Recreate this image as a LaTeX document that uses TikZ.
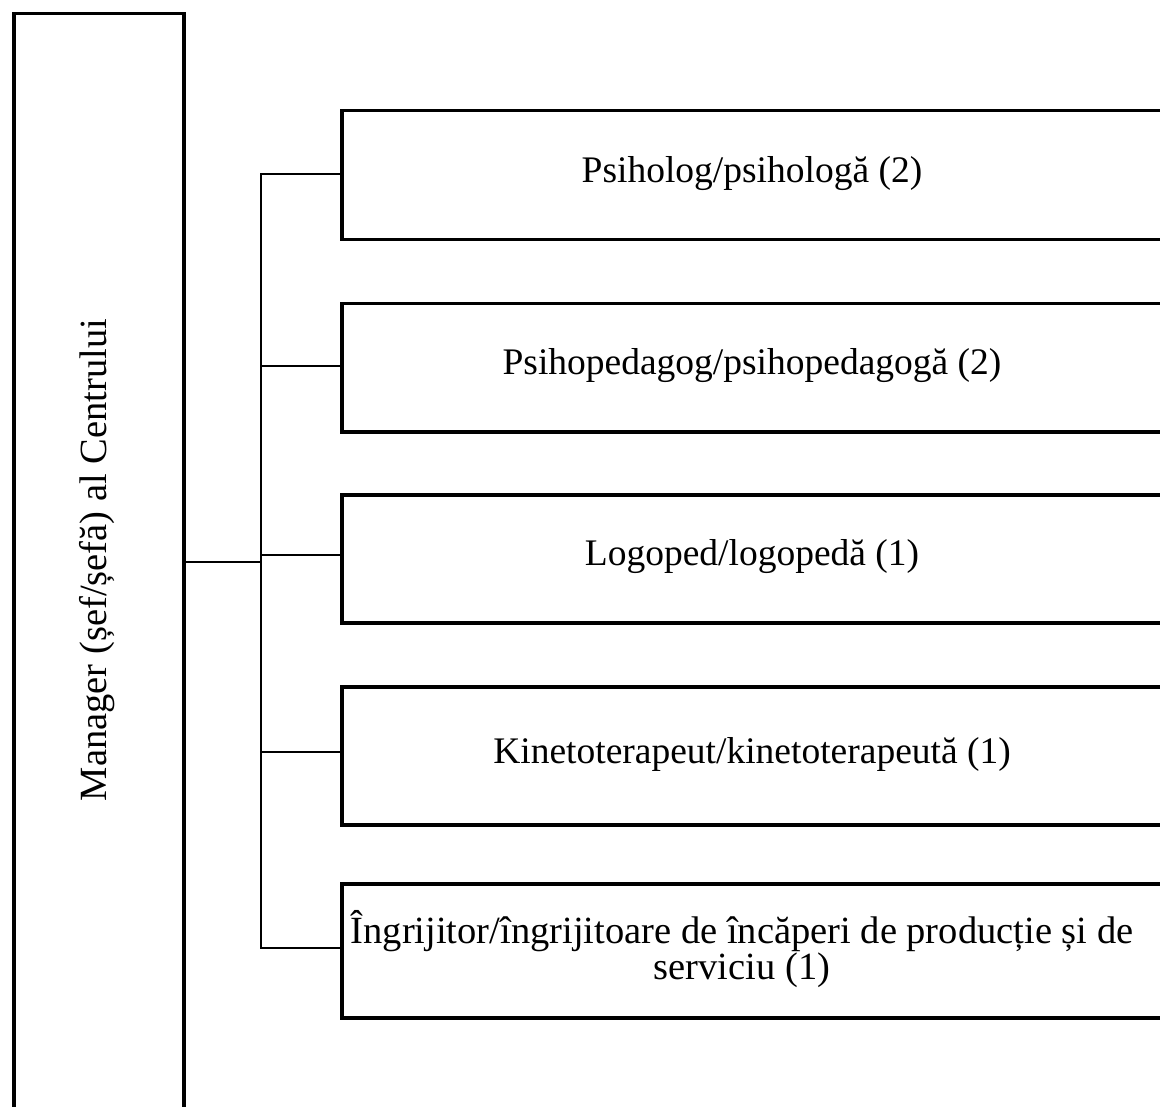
\documentclass[tikz,border=0pt]{standalone}
\usepackage{fontspec}
\setmainfont{Liberation Serif}
\begin{document}
\begin{tikzpicture}[x=1pt,y=-1pt,
  box/.style={draw, line width=3.5pt, rectangle, inner sep=0pt},
  role/.style={box, minimum width=824pt, minimum height=#1, anchor=north west},
  lbl/.style={font=\fontsize{37.5}{33}\selectfont, align=center},
  conn/.style={line width=2pt}]
\useasboundingbox (0,0) rectangle (1160,1107);
\node[box, minimum width=170pt, minimum height=1200pt, anchor=north west] (mgr) at (12,12) {};
\node[lbl, rotate=90, font=\fontsize{38.5}{33}\selectfont] (mgrt) at (97,560) {Manager (șef/șefă) al Centrului};
\node[role=129pt] (r1) at (340,109) {};
\node[role=128pt] (r2) at (340,302) {};
\node[role=128pt] (r3) at (340,493) {};
\node[role=138pt] (r4) at (340,685) {};
\node[role=134pt] (r5) at (340,882) {};
\node[lbl] (t1) at (752,174) {Psiholog/psihologă (2)};
\node[lbl] (t2) at (752,366) {Psihopedagog/psihopedagogă (2)};
\node[lbl] (t3) at (752,557) {Logoped/logopedă (1)};
\node[lbl] (t4) at (752,754) {Kinetoterapeut/kinetoterapeută (1)};
\node[lbl, font=\fontsize{38.5}{33}\selectfont] (t5) at (742,949) {Îngrijitor/îngrijitoare de încăperi de producție și de\\serviciu (1)};
\coordinate (bus) at (261,562);
\draw[conn] (mgr.east |- bus) -- (bus);
\draw[conn] (r1.west |- 0,174) -| (261,948) -- (r5.west |- 0,948);
\draw[conn] (261,366) -- (r2.west |- 0,366);
\draw[conn] (261,555) -- (r3.west |- 0,555);
\draw[conn] (261,752) -- (r4.west |- 0,752);
\end{tikzpicture}
\end{document}
